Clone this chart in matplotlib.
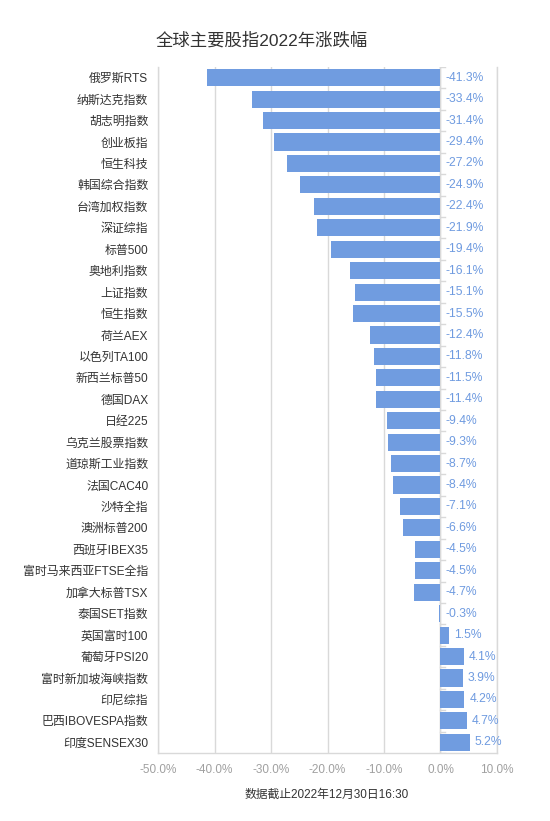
import numpy as np
import matplotlib.pyplot as plt

plt.rcParams['font.family'] = ['Liberation Sans', 'Noto Sans CJK SC', 'DejaVu Sans']

names = ['俄罗斯RTS', '纳斯达克指数', '胡志明指数', '创业板指', '恒生科技', '韩国综合指数',
         '台湾加权指数', '深证综指', '标普500', '奥地利指数', '上证指数', '恒生指数',
         '荷兰AEX', '以色列TA100', '新西兰标普50', '德国DAX', '日经225', '乌克兰股票指数',
         '道琼斯工业指数', '法国CAC40', '沙特全指', '澳洲标普200', '西班牙IBEX35',
         '富时马来西亚FTSE全指', '加拿大标普TSX', '泰国SET指数', '英国富时100',
         '葡萄牙PSI20', '富时新加坡海峡指数', '印尼综指', '巴西IBOVESPA指数', '印度SENSEX30']
values = [-41.3, -33.4, -31.4, -29.4, -27.2, -24.9, -22.4, -21.9, -19.4, -16.1, -15.1, -15.5,
          -12.4, -11.8, -11.5, -11.4, -9.4, -9.3, -8.7, -8.4, -7.1, -6.6, -4.5, -4.5, -4.7,
          -0.3, 1.5, 4.1, 3.9, 4.2, 4.7, 5.2]
xticks = [-50, -40, -30, -20, -10, 0, 10]

bar_color = '#709ce0'
grid_color = '#d9d9d9'

fig = plt.figure(figsize=(5.5, 8.21), dpi=100)
ax = fig.add_axes([158 / 550, 1 - 753 / 821, 339 / 550, 686 / 821])

y = np.arange(len(names))
ax.barh(y, values, height=0.8, color=bar_color, zorder=3)
ax.set_ylim(len(names) - 0.5, -0.5)
ax.set_xlim(-50, 10)

for i, v in enumerate(values):
    x0 = max(v, 0) + 0.9
    ax.text(x0, i, '%.1f%%' % v, va='center', ha='left', fontsize=8.7,
            color='#6f9be0', zorder=4)

ax.set_yticks(y)
ax.set_yticklabels(names, fontsize=8.6, color='#333333')
ax.set_xticks(xticks)
ax.set_xticklabels(['%.1f%%' % t for t in xticks], fontsize=8.5, color='#a0a0a0')
ax.tick_params(axis='both', length=0, pad=7)
ax.tick_params(axis='x', pad=8)

ax.grid(axis='x', color=grid_color, linewidth=1, zorder=0)
for s in ax.spines.values():
    s.set_color(grid_color)
    s.set_linewidth(1)
ax.spines['top'].set_visible(False)

# category axis at zero with small ticks between bars
ax.axvline(0, color=grid_color, linewidth=1, zorder=2)
for b in np.arange(-0.5, len(names), 1):
    ax.plot([0, 0.8], [b, b], color=grid_color, linewidth=1, zorder=2)

fig.text(262 / 550, 1 - 40 / 821, '全球主要股指2022年涨跌幅', ha='center', va='center',
         fontsize=12.5, color='#333333')
fig.text(327 / 550, 1 - 795 / 821, '数据截止2022年12月30日16:30', ha='center', va='center',
         fontsize=8.5, color='#333333')

fig.savefig('out.png', dpi=100)
